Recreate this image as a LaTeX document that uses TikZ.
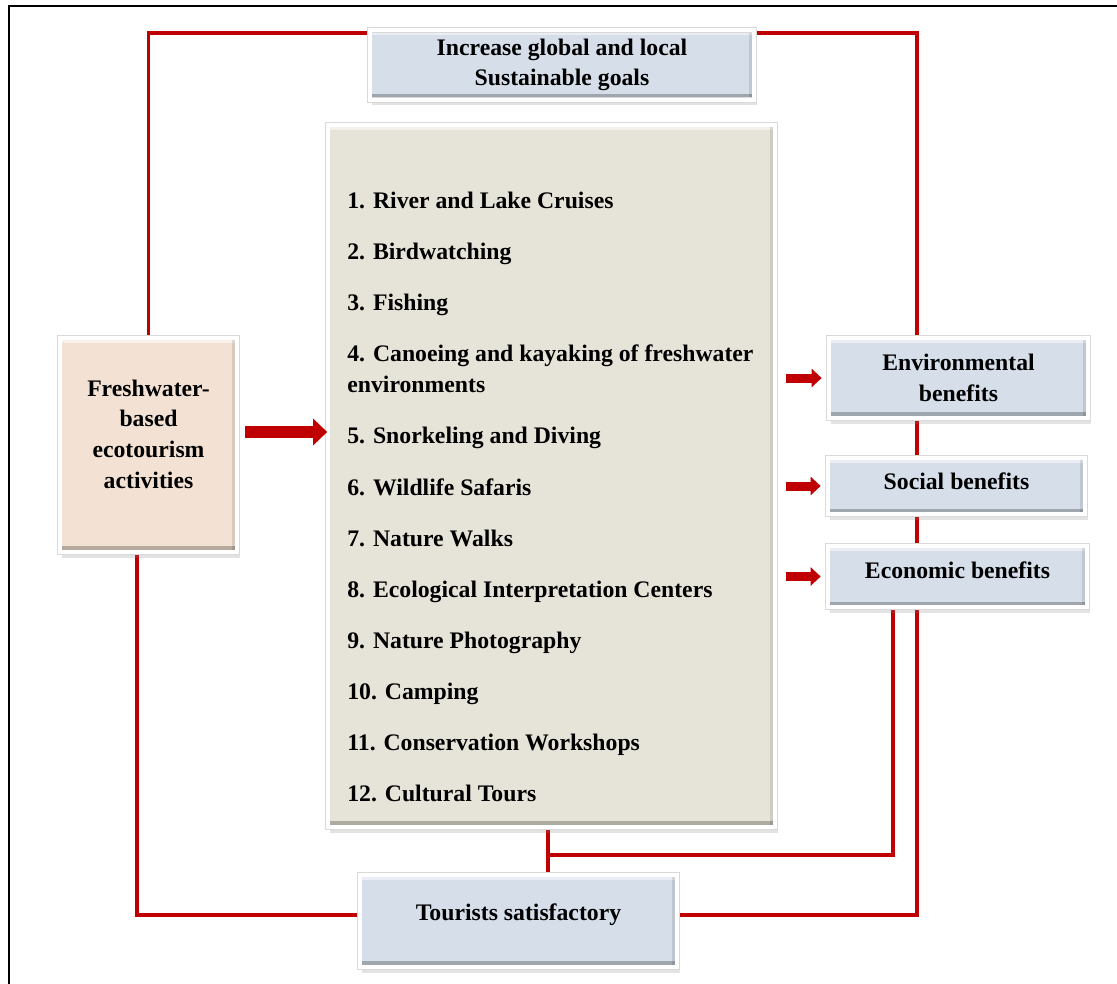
\documentclass[tikz,border=0pt]{standalone}
\usepackage{fontspec}
\setmainfont{Liberation Serif}
\usetikzlibrary{positioning}
\usetikzlibrary{arrows.meta}
\usetikzlibrary{shadows}
\usetikzlibrary{backgrounds}
\definecolor{linkred}{HTML}{C00000}
\definecolor{benefitblue}{HTML}{D5DEE9}
\definecolor{listgrey}{HTML}{E6E3D8}
\definecolor{freshpeach}{HTML}{F3E2D4}

\begin{document}
\begin{tikzpicture}[x=0.02cm, y=-0.02cm,
    boxfont/.style={font=\bfseries\fontsize{13.5}{17.5}\selectfont},
    panel/.style={boxfont, draw=black!15, line width=0.015cm, double=white, double distance=0.08cm,
        align=center, inner sep=2pt,
        drop shadow={shadow xshift=0.05cm, shadow yshift=-0.11cm, opacity=0.22},
        path picture={
            \fill[white, opacity=0.5] ([yshift=-0.05cm]path picture bounding box.north west) rectangle ([yshift=-0.1cm]path picture bounding box.north east);
            \fill[black, opacity=0.1] ([xshift=-0.05cm]path picture bounding box.south east) rectangle ([xshift=-0.11cm]path picture bounding box.north east);
            \fill[black, opacity=0.25] ([yshift=0.05cm]path picture bounding box.south west) rectangle ([yshift=0.12cm]path picture bounding box.south east);
        }},
    item/.style={boxfont, anchor=base west, align=left, inner sep=0pt},
    link/.style={draw=linkred, line width=0.075cm},
    blockarrow/.style={draw=linkred, fill=linkred, line width=0.18cm, -{Triangle[length=0.2cm, width=0.36cm]}},
    bigarrow/.style={draw=linkred, fill=linkred, line width=0.24cm, -{Triangle[length=0.28cm, width=0.52cm]}}]
    \useasboundingbox (0,0) rectangle (1117,984);
    \draw[line width=0.05cm] (1117,6) -- (9,6) -- (9,984);

    \node[panel, fill=benefitblue, minimum width=7.7cm, minimum height=1.4cm] (goals) at (562,65) {Increase global and local\\Sustainable goals};
    \node[panel, fill=listgrey, minimum width=8.96cm, minimum height=14.06cm] (list) at (551.5,476) {};
    \node[panel, fill=freshpeach, minimum width=3.56cm, minimum height=4.3cm, text depth=0.44cm] (fresh) at (148.5,445) {Freshwater-\\based\\ecotourism\\activities};
    \node[panel, fill=benefitblue, minimum width=5.2cm, minimum height=1.62cm] (env) at (958.5,378) {Environmental\\benefits};
    \node[panel, fill=benefitblue, minimum width=5.16cm, minimum height=1.14cm, text depth=0.2cm] (social) at (956.5,486) {Social benefits};
    \node[panel, fill=benefitblue, minimum width=5.2cm, minimum height=1.24cm, text depth=0.24cm] (econ) at (957.5,576.5) {Economic benefits};
    \node[panel, fill=benefitblue, minimum width=6.36cm, minimum height=1.86cm, text depth=0.35cm] (tourists) at (518.5,921) {Tourists satisfactory};

    \foreach \y/\txt [count=\i] in {208/{1. River and Lake Cruises}, 259/{2. Birdwatching}, 310/{3. Fishing},
        392/{4. Canoeing and kayaking of freshwater\\environments}, 443/{5. Snorkeling and Diving},
        495/{6. Wildlife Safaris}, 546/{7. Nature Walks}, 597/{8. Ecological Interpretation Centers},
        648/{9. Nature Photography}, 699/{10. Camping}, 750/{11. Conservation Workshops}, 801/{12. Cultural Tours}}
        \node[item] (act\i) at (347,\y) {\txt};

    \coordinate (spine) at (917,0);
    \coordinate (drop) at (893,0);
    \coordinate (lspine) at (137,0);
    \coordinate (jn) at (548,855);
    \begin{scope}[on background layer]
        \draw[link] (fresh.north) |- ([yshift=-0.07cm]goals.north west);
        \draw[link] ([yshift=-0.07cm]goals.north east) -| (spine |- env.north);
        \draw[link] (spine |- env.south) -- (spine |- social.north);
        \draw[link] (spine |- social.south) -- (spine |- econ.north);
        \draw[link] (spine |- econ.south) |- ([yshift=0.12cm]tourists.east);
        \draw[link] (drop |- econ.south) |- (jn);
        \draw[link] (jn |- list.south) -- (jn |- tourists.north);
        \draw[link] (lspine |- fresh.south) |- ([yshift=0.12cm]tourists.west);
    \end{scope}

    \coordinate (fresharrow) at ([xshift=0.14cm, yshift=0.26cm]fresh.east);
    \draw[bigarrow] (fresharrow) -- (fresharrow -| list.west);
    \coordinate (listedge) at ([xshift=0.2cm]list.east);
    \foreach \b in {env, social, econ}
        \draw[blockarrow] (listedge |- \b.west) -- ([xshift=-0.13cm]\b.west);
\end{tikzpicture}
\end{document}
